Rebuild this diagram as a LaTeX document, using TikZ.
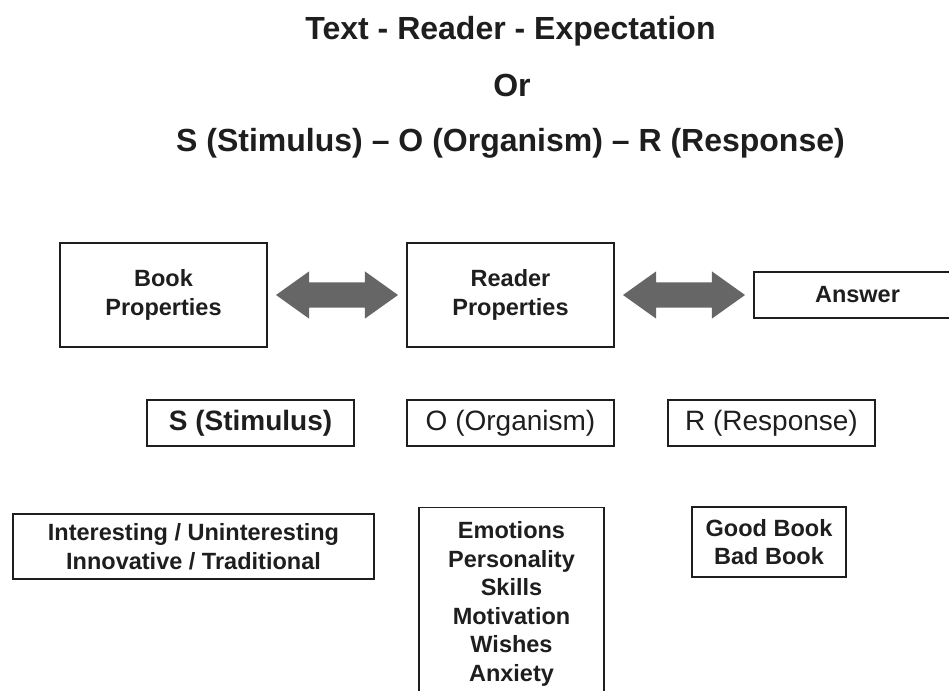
\documentclass[tikz,border=0pt]{standalone}
\usepackage{fontspec}
\setmainfont{Liberation Sans}
\usetikzlibrary{shapes.arrows,calc}
\definecolor{arrowgray}{HTML}{666666}
\definecolor{inkgray}{HTML}{1E1E1E}

\begin{document}
\begin{tikzpicture}[
    x=1pt, y=-1pt,
    heading/.style={font=\fontsize{32}{38}\selectfont\bfseries, text=inkgray, anchor=base, inner sep=0pt},
    propbox/.style={rectangle, draw=inkgray, line width=1.4pt, minimum width=207pt, align=center, font=\fontsize{23.5}{28.5}\selectfont\bfseries, text=inkgray, inner sep=0pt},
    letterbox/.style={propbox, minimum height=46pt, font=\fontsize{28}{32}\selectfont},
    dblarrow/.style={double arrow, fill=arrowgray, draw=none, inner xsep=0pt, inner ysep=12.5pt, double arrow head extend=11pt, double arrow tip angle=71, minimum height=122pt, minimum width=47pt}
]
\clip (0,0) rectangle (949,690);

% Titles
\node[heading] (title) at (510.5,40) {Text - Reader - Expectation};
\node[heading] (or) at (512,97) {Or};
\node[heading] (sor) at (510.5,151) {S (Stimulus) -- O (Organism) -- R (Response)};

% Property boxes
\node[propbox, minimum height=104pt] (book) at (163.5,295) {Book\\Properties};
\node[propbox, minimum height=104pt] (reader) at (510.5,295) {Reader\\Properties};
\node[propbox, minimum height=46pt] (answer) at (857.5,295) {Answer};

% Arrows
\node[dblarrow] (bookreader) at ($(book.east)!0.5!(reader.west)$) {};
\node[dblarrow] (readeranswer) at ($(reader.east)!0.5!(answer.west)$) {};

% S-O-R labels
\node[letterbox, font=\fontsize{28}{32}\selectfont\bfseries] (stimulus) at (250.5,423) {S (Stimulus)};
\node[letterbox] (organism) at (510.5,423) {O (Organism)};
\node[letterbox] (response) at (771.5,423) {R (Response)};

% Examples
\node[propbox, minimum width=361pt, minimum height=65pt] (bookex) at (193.5,546.5) {Interesting / Uninteresting\\Innovative / Traditional};
\node[propbox, minimum width=185pt, anchor=north, inner ysep=14pt] (readerex) at (511.5,507) {Emotions\\Personality\\Skills\\Motivation\\Wishes\\Anxiety};
\node[propbox, minimum width=154pt, minimum height=70pt] (answerex) at (769,542) {Good Book\\Bad Book};

\end{tikzpicture}
\end{document}
